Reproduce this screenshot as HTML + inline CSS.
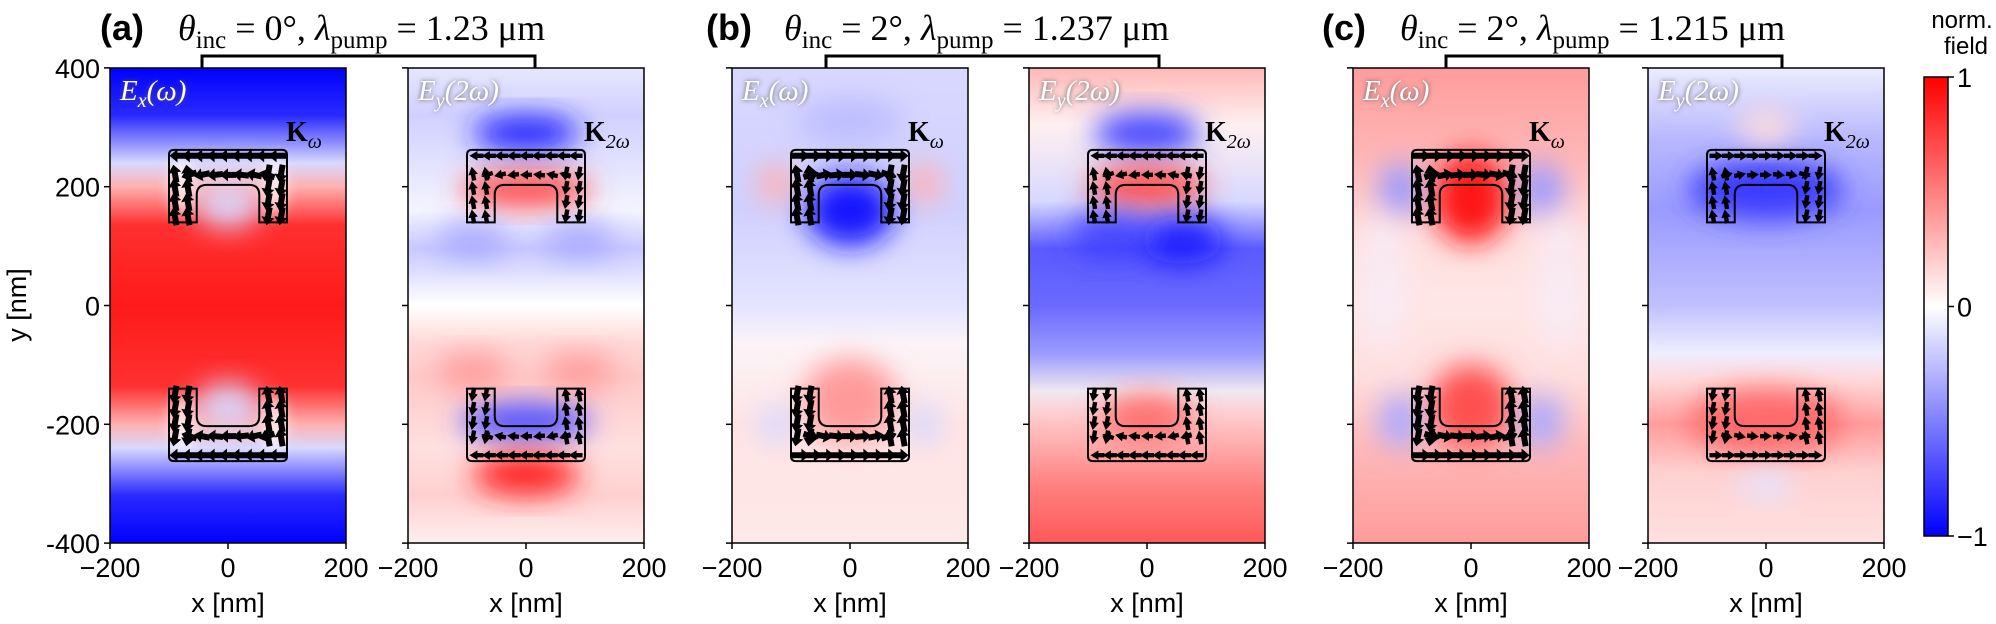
<!DOCTYPE html>
<html><head><meta charset="utf-8">
<style>
html,body{margin:0;padding:0;background:#fff;}
svg{display:block;}
</style></head><body>
<svg id="s" width="1996" height="624" xmlns="http://www.w3.org/2000/svg" font-family="Liberation Sans, sans-serif">
<defs>
<filter id="bl" x="-50%" y="-50%" width="200%" height="200%"><feGaussianBlur stdDeviation="14"/></filter>
<filter id="bl2" x="-50%" y="-50%" width="200%" height="200%"><feGaussianBlur stdDeviation="7"/></filter>
<filter id="tg" x="-20%" y="-40%" width="140%" height="180%"><feGaussianBlur stdDeviation="2.5"/></filter>
<linearGradient id="cb" x1="0" y1="0" x2="0" y2="1">
<stop offset="0" stop-color="#ff0000"/><stop offset="0.5" stop-color="#ffffff"/><stop offset="1" stop-color="#0000ff"/></linearGradient>
</defs>
<g id="root"></g>
</svg>
<script>
const NS="http://www.w3.org/2000/svg";
const root=document.getElementById('root');
const defs=document.querySelector('defs');
function el(t,a,p){const e=document.createElementNS(NS,t);for(const k in a)e.setAttribute(k,a[k]);(p||root).appendChild(e);return e;}
const TOP=68,BOT=543,W=236,Y0=305.5,SY=0.594,SX=0.59;
function Y(nm){return Y0-nm*SY;}
let gid=0;
function panel(x0,stops,blobs,label,kl,arrDir){
  const cx=x0+W/2;
  const id='g'+(gid++);
  const lg=el('linearGradient',{id:id,x1:0,y1:0,x2:0,y2:1},defs);
  stops.forEach(s=>el('stop',{offset:s[0],'stop-color':s[1]},lg));
  el('clipPath',{id:'c'+id},defs);
  el('rect',{x:x0,y:TOP,width:W,height:BOT-TOP},document.getElementById('c'+id));
  const g=el('g',{'clip-path':'url(#c'+id+')'});
  el('rect',{x:x0,y:TOP,width:W,height:BOT-TOP,fill:'url(#'+id+')'},g);
  blobs.forEach(b=>{el('ellipse',{cx:cx+b[0]*SX,cy:Y(b[1]),rx:b[2]*SX,ry:b[3]*SY,fill:b[4],opacity:b[5]||1,filter:b[6]?'url(#bl2)':'url(#bl)'},g);});
  const L=cx-100*SX,R=cx+100*SX,il=cx-53*SX,ir=cx+53*SX;
  const t1=Y(262),b1=Y(140),a1=Y(203);
  el('path',{d:`M${L},${b1} L${L},${t1+5} Q${L},${t1} ${L+5},${t1} L${R-5},${t1} Q${R},${t1} ${R},${t1+5} L${R},${b1} L${ir},${b1} L${ir},${a1+10} Q${ir},${a1} ${ir-10},${a1} L${il+10},${a1} Q${il},${a1} ${il},${a1+10} L${il},${b1} Z`,fill:'none',stroke:'#000','stroke-width':2},g);
  const t2=Y(-262),b2=Y(-140),a2=Y(-203);
  el('path',{d:`M${L},${b2} L${L},${t2-5} Q${L},${t2} ${L+5},${t2} L${R-5},${t2} Q${R},${t2} ${R},${t2-5} L${R},${b2} L${ir},${b2} L${ir},${a2-10} Q${ir},${a2} ${ir-10},${a2} L${il+10},${a2} Q${il},${a2} ${il},${a2-10} L${il},${b2} Z`,fill:'none',stroke:'#000','stroke-width':2},g);
  function arrow(x,y,ang,len,w){
    const a=ang*Math.PI/180,c=Math.cos(a),s=Math.sin(a);
    const h=len/2,hw=w*2.2;
    const p=[[h,0],[h-8,-hw],[h-8,-w],[-h,-w],[-h,w],[h-8,w],[h-8,hw]].map(q=>[x+q[0]*c-q[1]*s,y+q[0]*s+q[1]*c].join(',')).join(' ');
    el('polygon',{points:p,fill:'#000'},g);
  }
  const om=kl=='ω';
  const big=om?18:14, w=om?3:2.2;
  [1,-1].forEach(sg=>{
    for(let i=-4;i<=4;i++){arrow(cx+i*21*SX,Y(sg*252),arrDir>0?180:0,big,w);}
    for(let i=-3;i<=3;i++){arrow(cx+i*22*SX,Y(sg*220),(arrDir>0?180:0)+(i*6*sg),big-2,w);}
    [-90,-68,68,90].forEach(xx=>{for(let j=0;j<4;j++){arrow(cx+xx*SX,Y(sg*(150+j*24)),(xx<0?-100:100)*(sg>0?1:-1),big,w);}});
  });
  [400,200,0,-200,-400].forEach(v=>el('line',{x1:x0-6,x2:x0,y1:Y(v),y2:Y(v),stroke:'#000','stroke-width':1.5}));
  [-200,0,200].forEach((v,i)=>{const x=x0+i*W/2;el('line',{x1:x,x2:x,y1:BOT,y2:BOT+6,stroke:'#000','stroke-width':1.5});
    const t=el('text',{x:x,y:577,'font-size':27,'text-anchor':'middle'});t.textContent=v<0?'\u2212200':String(v);});
  const xl=el('text',{x:cx,y:612,'font-size':27,'text-anchor':'middle'});xl.textContent='x [nm]';
  el('rect',{x:x0,y:TOP,width:W,height:BOT-TOP,fill:'none',stroke:'#000','stroke-width':1.5});
  const lab=(label=='x')?'x':'y', arg=(label=='x')?'(ω)':'(2ω)';
  const sh=el('text',{x:x0+10,y:TOP+32,'font-size':29,'font-family':'Liberation Serif, serif','font-style':'italic',fill:'#555',filter:'url(#tg)'});
  sh.innerHTML='E<tspan font-size="20" dy="7">'+lab+'</tspan><tspan dy="-7">'+arg+'</tspan>';
  const tx=el('text',{x:x0+10,y:TOP+32,'font-size':29,'font-family':'Liberation Serif, serif','font-style':'italic',fill:'#fff'});
  tx.innerHTML='E<tspan font-size="20" dy="7">'+lab+'</tspan><tspan dy="-7">'+arg+'</tspan>';
  const k=el('text',{x:x0+176,y:141,'font-size':28,'font-family':'Liberation Serif, serif','font-weight':'bold'});
  k.innerHTML='K<tspan font-size="20" dy="7" font-weight="normal" font-style="italic">'+kl+'</tspan>';
}
const B='#0000ff';
panel(110,[[0,B],[0.1,'#2a2aff'],[0.2,'#d8d8ff'],[0.25,'#ffb0b0'],[0.33,'#ff3030'],[0.5,'#ff1a1a'],[0.67,'#ff3030'],[0.75,'#ffb0b0'],[0.8,'#d8d8ff'],[0.9,'#2a2aff'],[1,B]],
 [[0,170,55,40,'#d8d8ff',0.95],[0,-170,55,40,'#d8d8ff',0.95],[-78,200,20,50,'#fff',0.7,1],[78,200,20,50,'#fff',0.7,1],[-78,-200,20,50,'#fff',0.7,1],[78,-200,20,50,'#fff',0.7,1]],'x','ω',1);
panel(408,[[0,'#e6e6ff'],[0.1,'#d0d0ff'],[0.3,'#f4f4ff'],[0.38,'#c8c8ff'],[0.45,'#e8e8ff'],[0.5,'#ffffff'],[0.58,'#ffd8d8'],[0.65,'#ffc8c8'],[0.8,'#ffe0e0'],[0.9,'#ffd0d0'],[1,'#ffeeee']],
 [[0,290,90,30,'#2020ff'],[0,195,110,30,'#ff4a4a'],[0,-195,110,30,'#4848ff'],[0,-285,90,35,'#ff2020'],[-90,110,60,30,'#a0a0ff',0.8],[90,110,60,30,'#a0a0ff',0.8],[-90,-110,60,30,'#ff9090',0.8],[90,-110,60,30,'#ff9090',0.8]],'y','2ω',1);
panel(732,[[0,'#d8d8ff'],[0.3,'#d0d0ff'],[0.5,'#e4e4ff'],[0.58,'#fbf4f8'],[0.75,'#ffe4e4'],[1,'#ffe8e8']],
 [[0,160,75,60,'#1818ff'],[-125,205,30,35,'#ffb0b0'],[125,205,30,35,'#ffb0b0'],[0,-160,80,70,'#ff9a9a'],[-125,-200,30,35,'#d8d8ff'],[125,-200,30,35,'#d8d8ff'],[0,310,90,40,'#b8b8ff',0.8]],'x','ω',-1);
panel(1029,[[0,'#ffb8b8'],[0.12,'#fff0f0'],[0.28,'#d8d8ff'],[0.38,'#5a5aff'],[0.5,'#6a6aff'],[0.6,'#9a9aff'],[0.68,'#f0e8f0'],[0.74,'#ffc8c8'],[0.88,'#ff8080'],[1,'#ff5858']],
 [[0,290,90,35,'#4545ff'],[0,200,100,35,'#ff5050'],[60,110,70,40,'#1010ff',0.8],[-60,120,70,40,'#3030ff',0.7],[0,-190,80,40,'#ff7070']],'y','2ω',1);
panel(1353,[[0,'#ff9c9c'],[0.2,'#ffb8b8'],[0.35,'#ffdede'],[0.5,'#ffe6e6'],[0.65,'#ffdede'],[0.8,'#ffb8b8'],[1,'#ff9c9c']],
 [[0,180,65,75,'#ff1414'],[0,-170,70,70,'#ff5050'],[-120,195,35,45,'#9898ff'],[120,195,35,45,'#9898ff'],[-120,-195,35,45,'#a8a8ff'],[120,-195,35,45,'#a8a8ff'],[-150,40,40,120,'#f4f0ff',0.6],[150,40,40,120,'#f4f0ff',0.6]],'x','ω',-1);
panel(1648,[[0,'#ececff'],[0.15,'#b8b8ff'],[0.3,'#9a9aff'],[0.5,'#c0c0ff'],[0.6,'#eeeeff'],[0.66,'#ffd8d8'],[0.75,'#ff9c9c'],[0.85,'#ffd0d0'],[1,'#ffe0e0']],
 [[0,195,130,50,'#3a3aff'],[0,-195,130,55,'#ff6a6a'],[0,300,50,30,'#ffdcdc'],[0,-300,50,25,'#e4e4ff']],'y','2ω',-1);
[400,200,0,-200,-400].forEach(v=>{const t=el('text',{x:100,y:Y(v)+10,'font-size':27,'text-anchor':'end'});t.textContent=v<0?'-'+(-v):String(v);});
const yl=el('text',{x:0,y:0,'font-size':27,'text-anchor':'middle',transform:'translate(26,305) rotate(-90)'});yl.textContent='y [nm]';
function title(x,lbl,th,lam,bx1,bx2){
  const a=el('text',{x:x,y:40,'font-size':36,'font-weight':'bold'});a.textContent=lbl;
  const t=el('text',{x:x+78,y:40,'font-size':36,'font-family':'Liberation Serif, serif'});
  t.innerHTML='<tspan font-style="italic">θ</tspan><tspan font-size="25" dy="8">inc</tspan><tspan dy="-8"> = '+th+'°,  </tspan><tspan font-style="italic">λ</tspan><tspan font-size="25" dy="8">pump</tspan><tspan dy="-8"> = '+lam+' μm</tspan>';
  el('path',{d:`M${bx1},${TOP} L${bx1},56 L${bx2},56 L${bx2},${TOP}`,fill:'none',stroke:'#000','stroke-width':3});
}
title(100,'(a)','0','1.23',202,535);
title(706,'(b)','2','1.237',826,1159);
title(1322,'(c)','2','1.215',1446,1782);
el('rect',{x:1924,y:77,width:24,height:459,fill:'url(#cb)',stroke:'#000','stroke-width':1.5});
[[77,'1'],[306.5,'0'],[536,'\u22121']].forEach(p=>{el('line',{x1:1948,x2:1954,y1:p[0],y2:p[0],stroke:'#000','stroke-width':1.5});const t=el('text',{x:1957,y:p[0]+10,'font-size':27});t.textContent=p[1];});
let n=el('text',{x:1962,y:28,'font-size':24,'text-anchor':'middle'});n.textContent='norm.';
n=el('text',{x:1966,y:54,'font-size':24,'text-anchor':'middle'});n.textContent='field';
</script>
</body></html>
